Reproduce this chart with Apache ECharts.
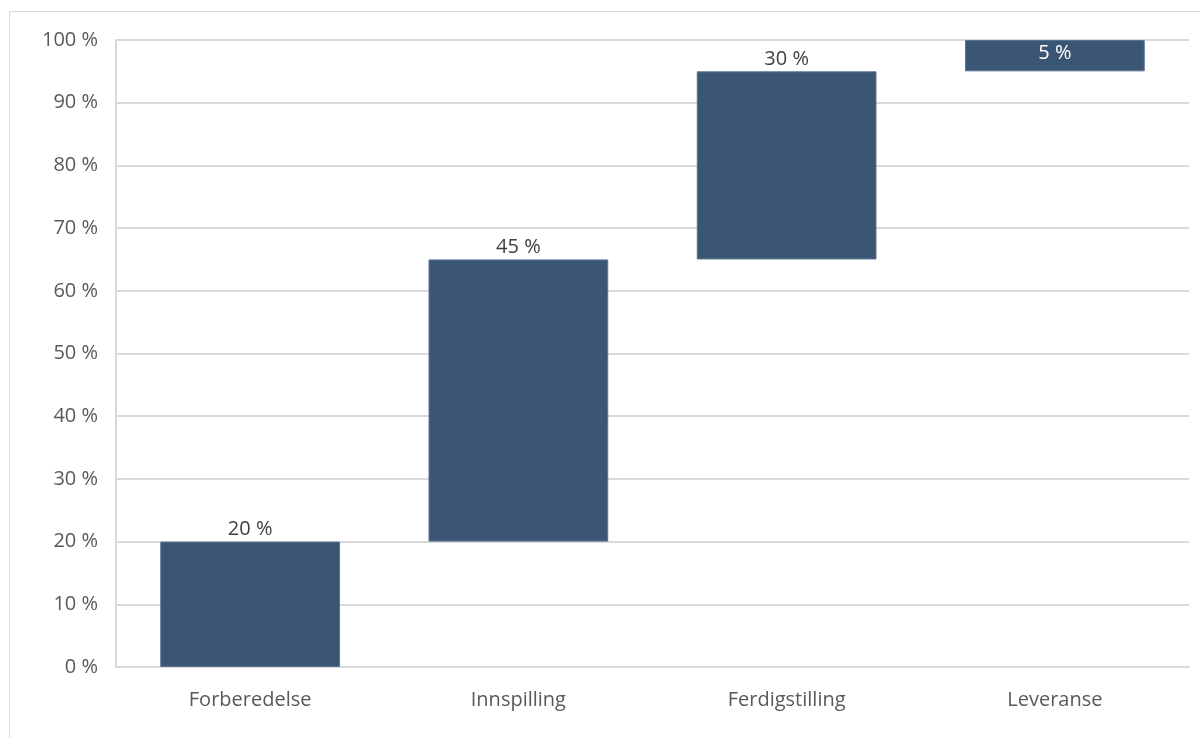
<!DOCTYPE html>
<html>
<head>
<meta charset="utf-8">
<script src="https://cdn.jsdelivr.net/npm/echarts@6/dist/echarts.min.js"></script>
<style>
  html, body { margin: 0; padding: 0; background: #fff; }
  #chart { width: 1200px; height: 738px; }
</style>
</head>
<body>
<div id="chart"></div>
<script>
const categories = ['Forberedelse', 'Innspilling', 'Ferdigstilling', 'Leveranse']
const shares = [20, 45, 30, 5]
const yTicks = [0, 10, 20, 30, 40, 50, 60, 70, 80, 90, 100]

// invisible base for each step of the waterfall
const offsets = []
let running = 0
shares.forEach(v => {
  offsets.push(running)
  running += v
})

const barColor = '#3b5674'
const fontFamily = '"Open Sans", "Noto Sans", sans-serif'

const chart = echarts.init(document.getElementById('chart'))
chart.setOption({
  backgroundColor: '#fff',
  animation: false,
  graphic: [
    {
      type: 'rect',
      shape: { x: 9.5, y: 11.5, width: 1200, height: 740 },
      style: { fill: 'none', stroke: '#d9d9d9', lineWidth: 1 },
      silent: true,
      z: -10
    }
  ],
  grid: {
    left: 116,
    right: 11,
    top: 40,
    bottom: 71
  },
  xAxis: {
    type: 'category',
    data: categories,
    axisTick: { show: false },
    axisLine: { lineStyle: { color: '#d9d9d9', width: 2 } },
    axisLabel: {
      color: '#595959',
      fontSize: 20,
      fontFamily: fontFamily,
      margin: 23
    }
  },
  yAxis: {
    type: 'value',
    min: yTicks[0],
    max: yTicks[yTicks.length - 1],
    interval: yTicks[1] - yTicks[0],
    axisLine: { show: true, lineStyle: { color: '#d9d9d9', width: 2 } },
    axisTick: { show: false },
    splitLine: { lineStyle: { color: '#d9d9d9', width: 2 } },
    axisLabel: {
      color: '#595959',
      fontSize: 20,
      fontFamily: fontFamily,
      margin: 18,
      formatter: v => v + ' %'
    }
  },
  series: [
    {
      name: 'base',
      type: 'bar',
      stack: 'w',
      data: offsets,
      itemStyle: { color: 'transparent' },
      silent: true,
      barCategoryGap: '33%'
    },
    {
      name: 'andel',
      type: 'bar',
      stack: 'w',
      data: shares.map((v, i) => {
        const last = offsets[i] + v >= 100
        return {
          value: v,
          label: last
            ? { position: 'insideTop', distance: 3, color: '#ffffff' }
            : { position: 'top', distance: 2, color: '#404040' }
        }
      }),
      barCategoryGap: '33%',
      itemStyle: { color: barColor, borderColor: '#5a7391', borderWidth: 1 },
      label: {
        show: true,
        fontSize: 20,
        fontFamily: fontFamily,
        formatter: p => p.value + ' %'
      }
    }
  ]
})
</script>
</body>
</html>
